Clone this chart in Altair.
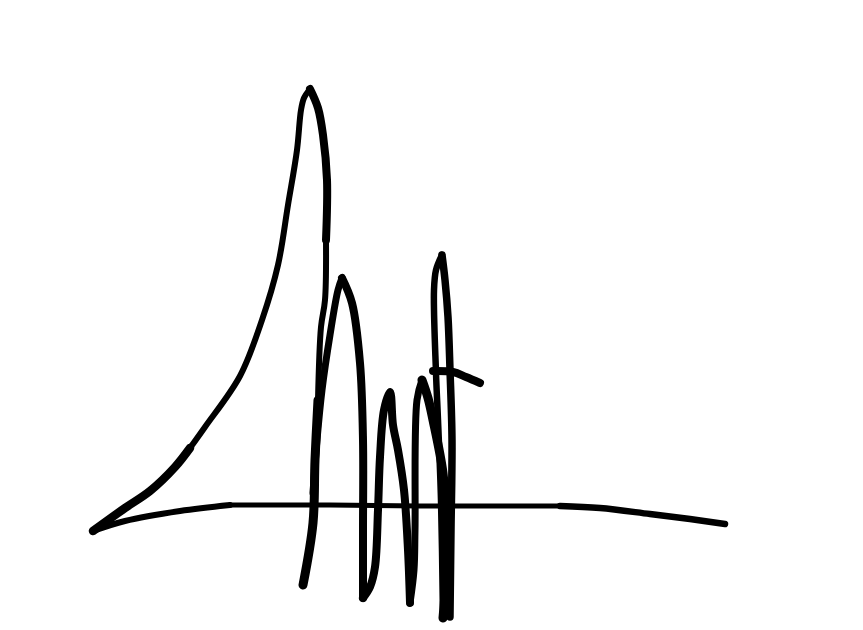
import altair as alt
import pandas as pd

# Hand-drawn strokes (x right, y down, in picture units)
base_r_x = [725, 690, 650, 600, 560]
base_r_y = [524, 519, 514, 508, 506]
base_m_x = [560, 520, 420, 330, 230]
base_m_y = [506, 506, 506, 505, 505]
base_l_x = [230, 180, 125, 93]
base_l_y = [505, 511, 521, 531]

left_low_x = [93, 125, 150, 175, 190]
left_low_y = [531, 508, 491, 467, 448]
left_up_x = [190, 205, 240, 262, 278, 288, 297, 301, 304, 310]
left_up_y = [448, 427, 376, 320, 265, 205, 150, 110, 98, 89]

peak_a_x = [310, 318, 323, 327, 326]
peak_a_y = [89, 108, 135, 180, 240]
peak_b_x = [326, 325, 321, 318]
peak_b_y = [240, 300, 327, 400]
peak_c_x = [318, 315, 313, 303]
peak_c_y = [400, 460, 523, 585]

hump2_up_x = [313, 317, 322, 330, 338, 342]
hump2_up_y = [493, 440, 390, 335, 290, 278]
hump2_dn_x = [342, 352, 360, 363, 363, 363]
hump2_dn_y = [278, 303, 363, 440, 530, 598]

hump3_x = [363, 370, 375, 378, 380, 384, 390, 393, 398, 404, 408, 410]
hump3_y = [598, 587, 567, 510, 457, 410, 392, 425, 450, 490, 550, 603]

hump4_a_x = [410, 414, 415, 417, 422]
hump4_a_y = [603, 570, 530, 400, 380]
hump4_b_x = [422, 428, 433, 443, 446, 447, 443]
hump4_b_y = [380, 398, 420, 473, 520, 560, 618]

hump5_a_x = [443, 441, 438, 436, 434, 436, 442]
hump5_a_y = [618, 500, 420, 373, 290, 270, 255]
hump5_b_x = [442, 445, 448, 450, 452, 451, 450]
hump5_b_y = [255, 280, 317, 370, 440, 530, 617]

bar_x = [433, 453, 466, 480]
bar_y = [371, 372, 377, 383]

strokes = [
    (base_r_x, base_r_y, 6.5),
    (base_m_x, base_m_y, 5),
    (base_l_x, base_l_y, 6),
    (left_low_x, left_low_y, 8.5),
    (left_up_x, left_up_y, 6),
    (peak_a_x, peak_a_y, 8),
    (peak_b_x, peak_b_y, 6),
    (peak_c_x, peak_c_y, 9),
    (hump2_up_x, hump2_up_y, 7),
    (hump2_dn_x, hump2_dn_y, 8),
    (hump3_x, hump3_y, 8),
    (hump4_a_x, hump4_a_y, 7),
    (hump4_b_x, hump4_b_y, 9),
    (hump5_a_x, hump5_a_y, 6.5),
    (hump5_b_x, hump5_b_y, 7.5),
    (bar_x, bar_y, 8),
]

layers = []
for xs, ys, w in strokes:
    df = pd.DataFrame({"x": xs, "y": ys, "i": range(len(xs))})
    layers.append(
        alt.Chart(df)
        .mark_line(color="black", strokeWidth=w, strokeCap="round", strokeJoin="round", interpolate="catmull-rom")
        .encode(
            x=alt.X("x:Q", scale=alt.Scale(domain=[8, 855], nice=False, zero=False), axis=None),
            y=alt.Y("y:Q", scale=alt.Scale(domain=[622, 8], nice=False, zero=False), axis=None),
            order="i:Q",
        )
    )

chart = (
    alt.layer(*layers)
    .properties(width=847, height=614, padding=0, background="white")
    .configure_view(stroke=None)
)
chart.save("out.html", embed_options={"renderer": "svg", "actions": False})
